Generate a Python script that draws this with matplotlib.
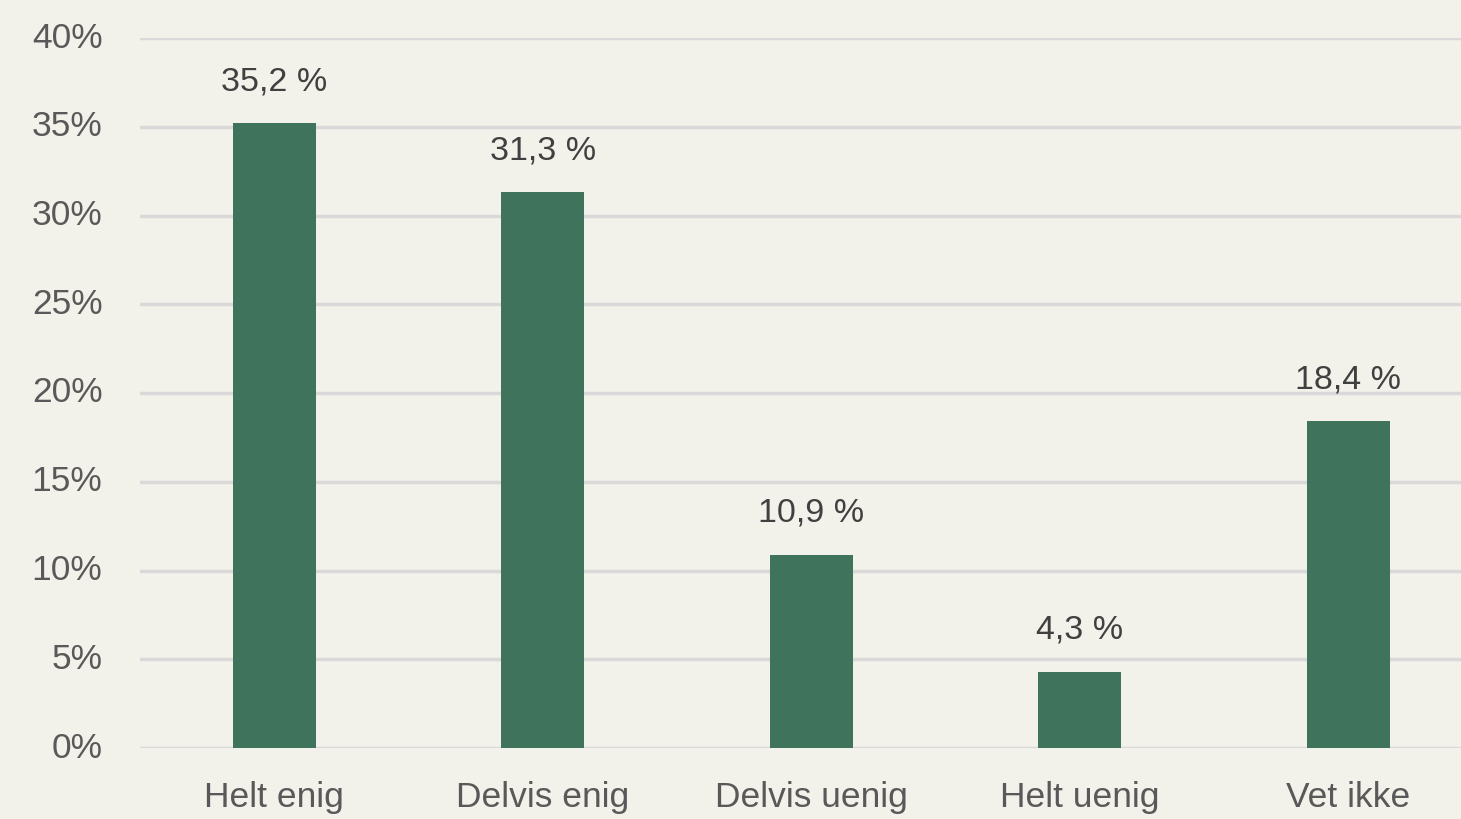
import numpy as np
import matplotlib.pyplot as plt

# svar og andel (%)
categories = ['Helt enig', 'Delvis enig', 'Delvis uenig', 'Helt uenig', 'Vet ikke']
values = [35.2, 31.3, 10.9, 4.3, 18.4]
yticks = [0, 5, 10, 15, 20, 25, 30, 35, 40]

bg = '#F2F1EA'
bar_col = '#40735C'

plt.rcParams['font.family'] = ['Liberation Sans', 'DejaVu Sans']

fig = plt.figure(figsize=(14.61, 8.19), dpi=100, facecolor=bg)
ax = fig.add_axes([140 / 1461, 71 / 819, 1321 / 1461, 710 / 819])
ax.set_facecolor(bg)

x = np.arange(len(categories))
ax.bar(x, values, width=0.31, color=bar_col, zorder=3)

for xi, v in zip(x, values):
    ax.annotate(f'{v:.1f} %'.replace('.', ','), (xi, v), xytext=(0, 30),
                textcoords='offset points', ha='center', va='center',
                fontsize=24.5, color='#404040')

ax.set_xlim(-0.5, -0.5 + 1321 / 268.5)
ax.set_ylim(0, 40)
ax.set_yticks(yticks)
ax.set_yticklabels([f'{t}%' for t in yticks], fontsize=25.5, color='#595959',
                   va='center')
for lbl in ax.get_yticklabels():
    lbl.set_y(lbl.get_position()[1])
ax.set_xticks(x)
ax.set_xticklabels(categories, fontsize=25.5, color='#595959')
ax.tick_params(axis='both', length=0)
ax.tick_params(axis='y', pad=27)
ax.tick_params(axis='x', pad=24)
ax.grid(axis='y', color='#D9D9D9', linewidth=2.5, zorder=0)
for s in ax.spines.values():
    s.set_visible(False)

plt.savefig('out.png', dpi=100, facecolor=bg)
